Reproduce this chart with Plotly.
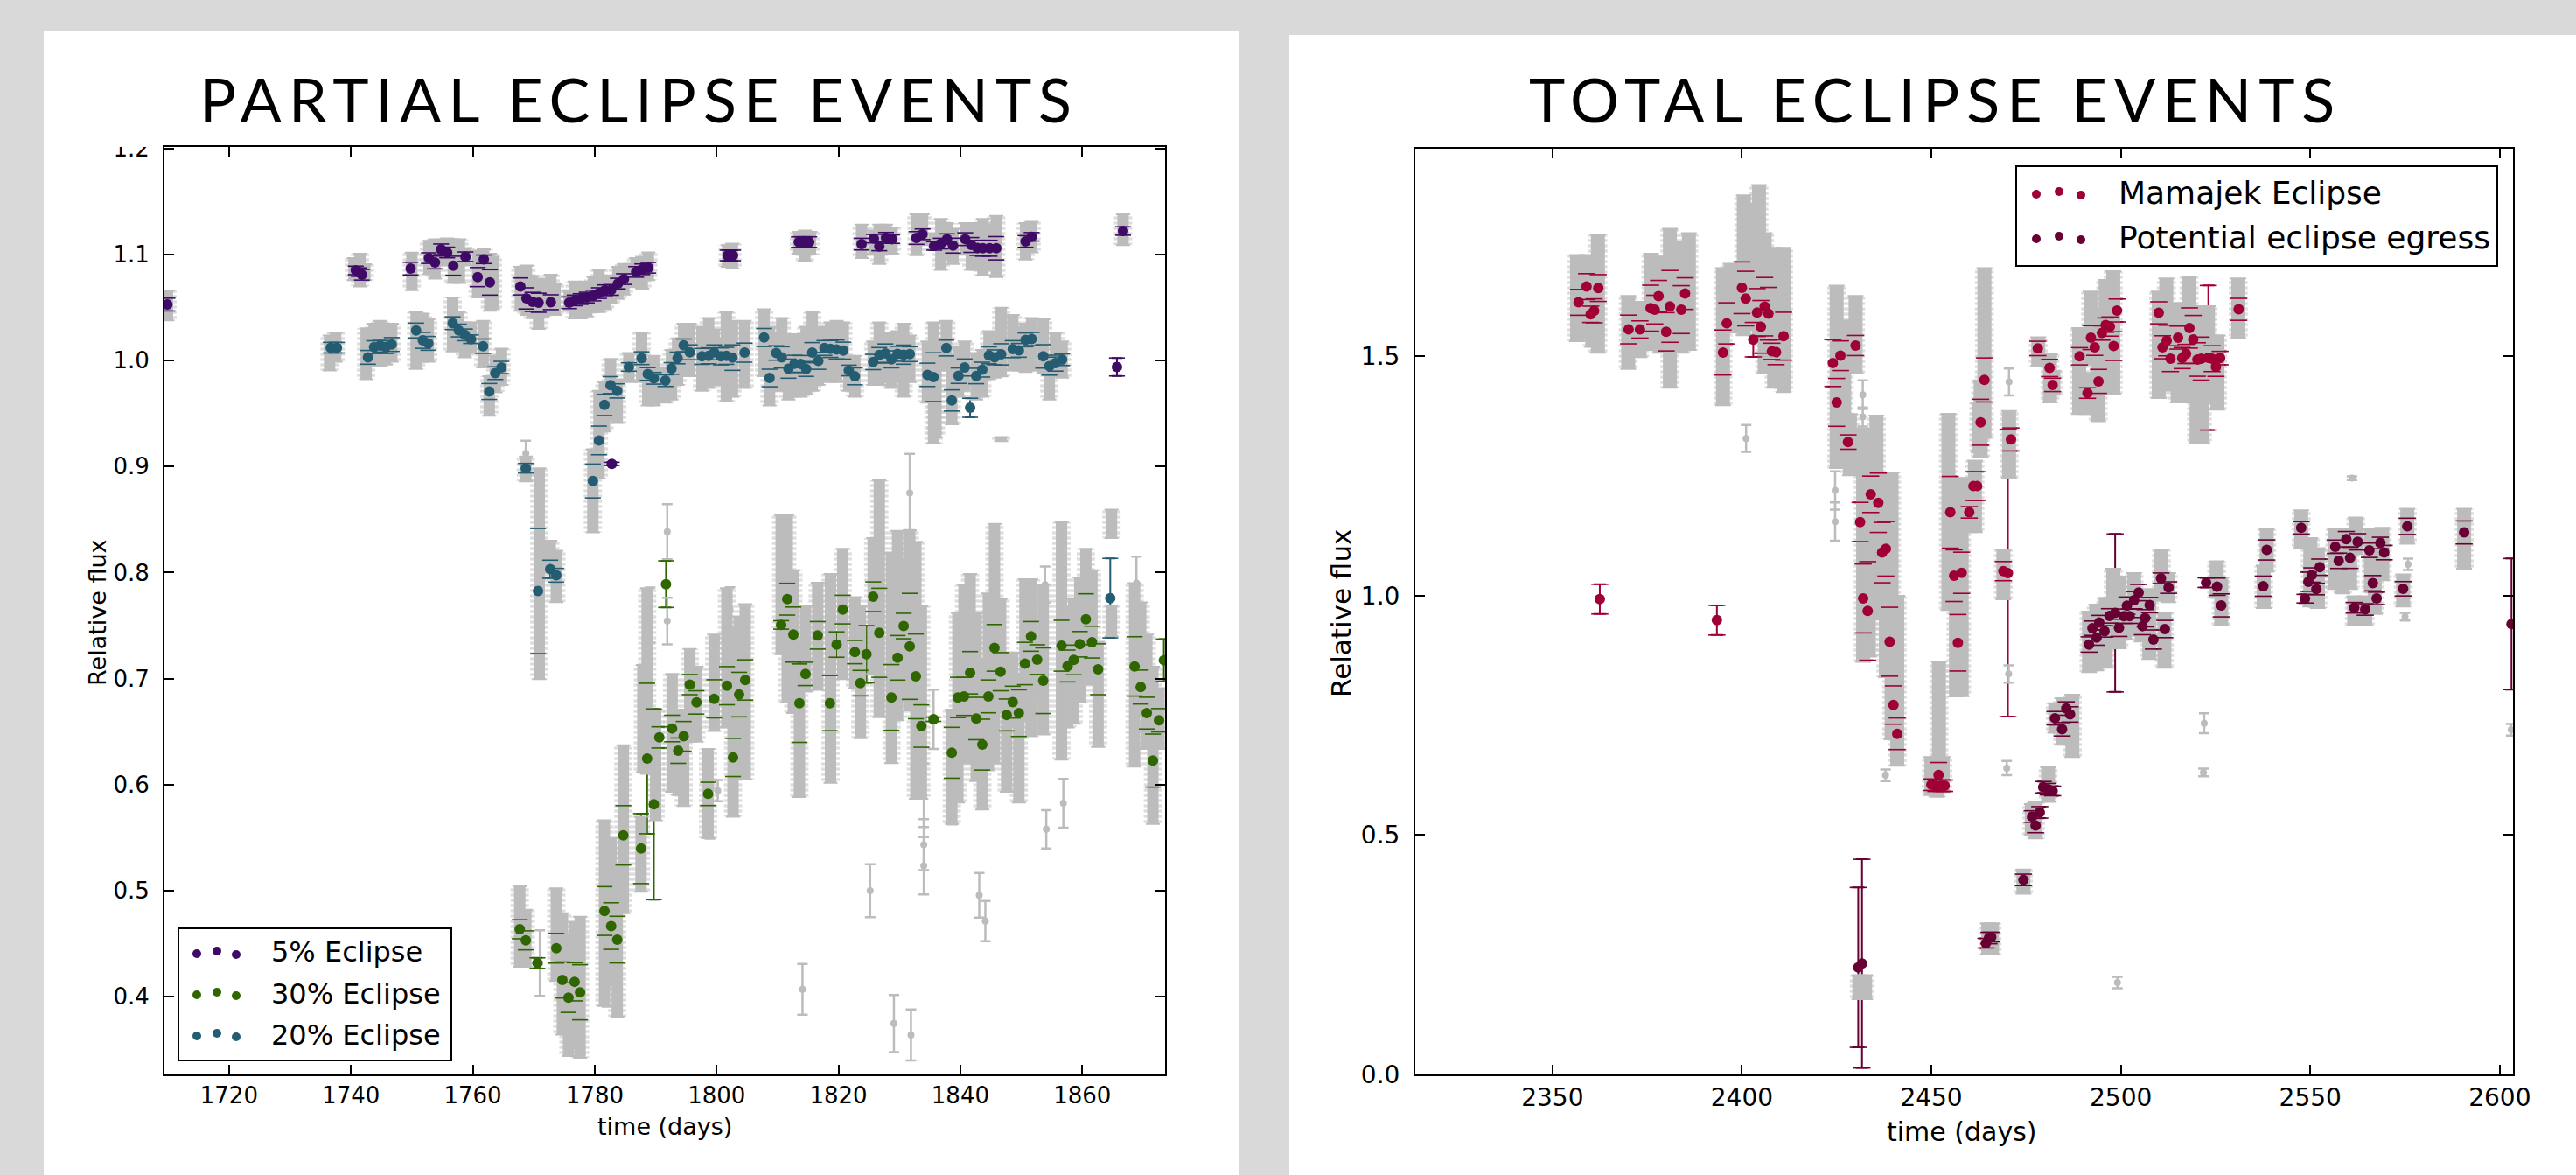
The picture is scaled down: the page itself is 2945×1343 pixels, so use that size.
import plotly.graph_objects as go

W, H = 2945, 1343

# ---------- PARTIAL ECLIPSE panel: coloured series ----------
p5_x = [1709.9,1740.8,1741.3,1741.8,1749.8,1752.8,1753.8,1754.8,1755.8,1756.8,
        1758.8,1760.8,1761.8,1762.8,1767.8,1768.8,1769.8,1770.8,1772.8,1775.8,
        1776.7,1777.7,1778.7,1779.8,1780.7,1781.7,1782.7,1783.8,1784.8,1786.8,
        1787.8,1788.8,1801.8,1802.2,1802.7,1782.8,1813.5,1814.1,1814.6,1815.2,
        1823.8,1825.8,1826.7,1827.8,1828.8,1832.8,1833.8,1835.7,1836.8,1837.8,
        1838.8,1840.8,1841.8,1842.8,1843.7,1844.8,1845.9,1850.7,1851.7,1866.7,1865.7]
p5_y = [1.0529,1.0851,1.0835,1.081,1.0868,1.0967,1.0926,1.105,1.102,1.0895,
        1.098,1.0788,1.0956,1.0738,1.070,1.0587,1.0554,1.0546,1.0551,1.0546,
        1.0568,1.0581,1.0595,1.0614,1.0637,1.0664,1.0667,1.0727,1.0769,1.0837,
        1.0862,1.0876,1.0992,1.0992,1.0992,0.9026,1.1118,1.1118,1.1118,1.1118,
        1.1099,1.1151,1.1077,1.1159,1.1146,1.1157,1.1192,1.1082,1.1104,1.1146,
        1.1085,1.1146,1.1091,1.1063,1.106,1.106,1.106,1.1124,1.1168,1.1223,0.994]
p5_e = [.006,.004,.004,.005,.006,.005,.006,.005,.005,.009,
        .0045,.009,.004,.012,.008,.01,.009,.009,.007,.0055,
        .005,.005,.005,.005,.005,.005,.005,.005,.005,.005,
        .005,.005,.005,.005,.005,.0015,.005,.005,.005,.005,
        .0055,.004,.004,.005,.004,.006,.005,.004,.005,.005,
        .007,.006,.007,.007,.0075,.0075,.011,.0055,.004,.004,.0085]

p20_x = [1736.7,1737.7,1742.8,1743.8,1744.8,1745.7,1746.7,1750.7,1751.8,1752.7,
         1756.7,1757.7,1758.7,1759.7,1761.7,1762.7,1763.7,1764.7,1768.7,1779.7,
         1780.7,1781.6,1782.6,1783.7,1785.6,1787.7,1788.7,1789.7,1791.6,1792.6,
         1793.6,1794.6,1795.6,1797.6,1798.7,1799.6,1800.7,1801.6,1802.6,1804.6,
         1807.8,1808.7,1809.8,1810.7,1811.8,1812.8,1813.8,1814.7,1815.7,1816.7,
         1817.7,1818.7,1819.7,1820.8,1821.7,1822.7,1825.7,1826.7,1827.7,1828.7,
         1829.7,1830.7,1831.7,1834.6,1835.6,1837.7,1838.6,1839.7,1840.7,1841.6,
         1842.6,1843.6,1844.7,1845.6,1846.7,1848.6,1849.6,1850.7,1851.7,1853.6,
         1854.6,1855.6,1856.7,1770.7,1772.7,1773.7,1864.6]
p20_y = [1.0122,1.0122,1.0031,1.0127,1.0141,1.0127,1.0152,1.0284,1.0191,1.0163,
         1.0353,1.0284,1.0243,1.0202,1.0136,.9709,.9882,.9935,.8985,.8864,
         .9247,.9582,.9769,.9714,.994,1.0023,.9874,.9833,.9811,.9926,
         1.0025,1.0144,1.0078,1.004,1.0045,1.0078,1.004,1.0045,1.0028,1.0075,
         1.0218,.9836,1.0072,1.0031,.9924,.997,.9968,.9921,1.0075,.9998,
         1.0119,1.011,1.0105,1.0094,.9907,.9852,.9987,1.0053,1.0067,1.0012,
         1.0064,1.0056,1.0061,.9866,.9844,1.0119,.9624,.9858,.9935,.9555,
         .9855,.9915,1.005,1.0031,1.0059,1.0108,1.0097,1.0196,1.0204,1.004,
         .9948,.9976,1.0009,.7826,.8032,.7975,.7759]
p20_e = [.005,.005,.0065,.006,.006,.006,.0065,.007,.0075,.0065,
         .006,.006,.0055,.004,.0068,.0075,.006,.0058,.0045,.016,
         .0135,.01,.008,.0067,.004,.006,.006,.0055,.0055,.0055,
         .0055,.006,.007,.0075,.0075,.007,.008,.008,.012,.009,
         .0085,.0083,.0068,.01,.009,.008,.008,.007,.0095,.008,
         .007,.008,.009,.008,.005,.008,.0072,.007,.009,.008,
         .007,.009,.007,.011,.023,.0075,.01,.0073,.008,.009,
         .0073,.007,.008,.007,.01,.008,.0065,.0065,.0062,.011,
         .0085,.0075,.0055,.059,.0085,.0065,.0375]

p30_x = [1767.7,1768.7,1770.6,1773.7,1774.7,1775.7,1776.7,1777.6,1781.6,1782.7,
         1783.7,1784.7,1787.6,1788.6,1789.7,1790.6,1791.7,1792.7,1793.7,1794.6,
         1795.6,1796.7,1798.6,1799.6,1801.7,1802.7,1803.7,1804.7,1810.6,1811.6,
         1812.6,1813.6,1814.6,1816.6,1818.6,1819.7,1820.7,1822.7,1823.6,1824.6,
         1825.7,1826.7,1828.7,1829.7,1830.7,1831.7,1832.7,1833.6,1835.6,1838.6,
         1839.6,1840.6,1841.6,1842.6,1843.6,1844.6,1845.6,1846.6,1847.6,1848.6,
         1849.6,1850.6,1851.6,1852.6,1853.6,1856.6,1857.6,1858.6,1859.6,1860.6,
         1861.6,1862.6,1868.6,1869.6,1870.6,1871.6,1872.6,1873.4]
p30_y = [.4635,.453,.4315,.4456,.4156,.399,.4139,.404,.4807,.4665,
         .4537,.5521,.5396,.6246,.5814,.6445,.7891,.6529,.632,.6455,
         .6943,.6775,.5912,.6809,.6933,.6256,.6849,.6987,.7506,.7749,
         .7415,.6768,.7044,.7408,.6768,.7321,.7651,.725,.6957,.723,
         .7772,.7432,.6822,.7196,.7496,.7304,.7021,.6552,.6616,.63,
         .6822,.6832,.7055,.6623,.6377,.6832,.729,.7065,.6657,.6778,
         .6674,.7142,.7398,.7179,.698,.731,.7119,.7176,.7324,.756,
         .7344,.7088,.7115,.692,.6674,.6226,.6607,.7173]
p30_e = [.009,.009,.005,.014,.017,.014,.018,.026,.023,.022,
         .022,.028,.033,.071,.09,.01,.022,.0125,.012,.014,
         .0095,.011,.011,.018,.018,.018,.021,.019,.004,.015,
         .026,.037,.011,.013,.026,.012,.0135,.011,.012,.027,
         .014,.042,.031,.021,.012,.05,.04,.02,.002,.024,
         .019,.018,.02,.02,.024,.0155,.022,.018,.015,.015,
         .022,.02,.014,.014,.031,.024,.015,.014,.012,.024,
         .015,.024,.028,.016,.015,.025,.011,.02]

# ---------- PARTIAL panel: grey light-curve columns ----------
pg_x = [1709.9,1740.5,1741.5,1742.3,1750.0,1752.8,1753.8,1754.8,1755.8,1756.8,1757.8,1758.8,
        1760.8,1761.8,1762.8,1763.3,1767.8,1768.8,1769.8,1770.8,1771.5,1772.8,1773.5,
        1775.8,1776.7,1777.7,1778.7,1779.8,1780.7,1781.7,1782.7,1783.8,1784.8,1785.8,1786.8,1787.8,1788.8,
        1801.8,1802.6,1813.5,1814.5,1815.4,1823.8,1825.8,1826.7,1827.8,1828.8,1832.8,1833.8,
        1835.7,1836.8,1837.8,1838.8,1840.8,1841.8,1842.8,1843.7,1844.8,1845.9,1850.7,1851.7,1866.7,
        1736.5,1737.5,1742.5,1743.8,1744.8,1745.7,1746.7,1750.7,1751.8,1752.7,
        1756.7,1757.7,1758.7,1759.7,1761.7,1762.7,1763.7,1764.7,1768.7,1770.9,1772.7,1773.7,
        1779.7,1780.7,1781.6,1782.6,1783.7,1785.6,1787.7,1788.7,1789.7,1791.6,1792.6,1793.6,1794.6,1795.6,
        1797.6,1798.7,1799.6,1800.7,1801.6,1802.6,1804.6,1807.8,1808.7,1809.8,1810.7,1811.8,1812.8,1813.8,1814.7,
        1815.7,1816.7,1817.7,1818.7,1819.7,1820.8,1821.7,1822.7,1825.7,1826.7,1827.7,1828.7,1829.7,1830.7,1831.7,
        1834.6,1835.6,1836.0,1837.7,1838.6,1839.7,1840.7,1842.6,1843.6,1844.7,1845.6,1846.7,
        1848.6,1849.6,1850.7,1851.7,1853.6,1854.6,1855.6,1856.7,1846.7,
        1767.7,1768.7,1773.7,1774.7,1775.7,1776.7,1777.6,1781.6,1782.7,1783.7,1784.7,1787.6,1787.9,1788.6,1790.0,
        1792.7,1793.7,1794.6,1795.6,1796.7,1798.6,1799.6,1801.7,1802.7,1803.7,1804.7,
        1810.6,1811.6,1812.6,1813.6,1814.6,1816.6,1818.7,1820.7,1822.7,1823.6,1825.7,1826.7,
        1828.7,1829.7,1830.7,1831.7,1832.7,1833.6,1838.6,1839.6,1840.6,1841.6,1842.6,1843.6,1844.6,1845.6,
        1846.6,1847.6,1848.6,1849.6,1850.6,1851.6,1852.6,1853.6,1856.6,1857.6,1858.6,1859.6,1860.6,1861.6,1862.6,
        1864.8,1864.8,1868.6,1869.6,1870.6,1871.6,1872.6]
pg_hi = [1.066,1.0967,1.1008,1.091,1.102,1.113,1.1146,1.113,1.1154,1.1146,1.1146,1.1063,
         1.1036,1.105,1.1008,1.098,1.0884,1.0898,1.08,1.0774,1.076,1.081,1.072,
         1.0664,1.0747,1.072,1.0747,1.0788,1.0857,1.0802,1.0802,1.0884,1.0912,1.0912,1.0967,1.098,1.1022,
         1.109,1.1104,1.1215,1.1228,1.1215,1.1283,1.1228,1.1283,1.1283,1.1256,1.138,1.138,
         1.12,1.1338,1.1297,1.1242,1.1297,1.1297,1.127,1.1338,1.1283,1.1366,1.1297,1.131,1.138,
         1.0237,1.0265,1.0306,1.0348,1.0375,1.0334,1.0348,1.0458,1.0444,1.0389,
         1.0595,1.0458,1.0361,1.0361,1.0375,.9852,1.0045,1.0114,.9095,.8985,.83,.8207,
         .9164,.9714,.9797,1.0017,.9825,1.0072,1.0265,1.0017,1.0045,.9935,1.01,1.021,1.0348,1.0348,
         1.032,1.0402,1.0292,1.021,1.0458,1.0375,1.0375,1.0485,1.032,1.0265,1.0402,1.0237,1.025,1.0237,1.032,
         1.0458,1.0292,1.032,1.0361,1.0375,1.0361,1.0045,1.0045,1.0182,1.0361,1.0265,1.0265,1.0279,1.0348,1.0237,
         1.0182,1.0361,1.018,1.0375,1.0045,1.0127,1.0182,1.0072,1.01,1.0279,1.0237,1.0499,
         1.043,1.032,1.0348,1.0402,1.0389,1.0045,1.0265,1.0182,.928,
         .5039,.482,.5022,.4786,.4584,.4702,.4753,.5663,.5494,.5224,.6371,.5696,.7129,.7853,.6707,
         .7044,.6707,.6674,.728,.7112,.6337,.7415,.7853,.7483,.7584,.7702,
         .8544,.8544,.8022,.7348,.7685,.7904,.7988,.8224,.7769,.7685,.8325,.887,
         .819,.8393,.8123,.84,.8291,.7685,.6707,.7617,.7887,.7988,.7617,.718,.7803,.846,
         .7752,.7247,.7247,.7044,.7938,.7938,.732,.7887,.8477,.7685,.7752,.7955,.8224,.8022,.7348,
         .8595,.7685,.7900,.7719,.7415,.7112,.691]
pg_lo = [1.038,1.076,1.07,1.076,1.0664,1.0815,1.0774,1.09,1.09,1.0733,1.0733,1.09,
         1.0595,1.0595,1.0471,1.0485,1.0471,1.043,1.04,1.0298,1.0416,1.043,1.043,
         1.0471,1.0397,1.0397,1.0416,1.0457,1.0457,1.0485,1.054,1.0582,1.0623,1.0705,1.0692,1.0678,1.076,
         1.0884,1.087,1.1008,1.0939,1.1,1.0967,1.1008,1.0912,1.1008,1.1008,1.0994,1.109,
         1.105,1.0857,1.0967,1.0912,1.1008,1.0857,1.0857,1.0802,1.0857,1.0788,1.0953,1.1022,1.109,
         .9907,.999,.9825,.9948,.9948,.9962,.999,.9921,.999,.999,
         1.0086,1.01,1.003,1.0072,.9935,.948,.97,.977,.8861,.6994,.7997,.772,
         .838,.8888,.933,.944,.9412,.9797,.9797,.9577,.9577,.9604,.9632,.977,.9852,.9852,
         .9714,.9742,.977,.977,.9618,.966,.9742,.9852,.9577,.9714,.9714,.9632,.966,.966,.9687,
         .9714,.977,.981,.9797,.9797,.9852,.9714,.966,.977,.977,.9797,.9742,.9797,.966,.9797,
         .9604,.9219,.9275,.9907,.9398,.9659,.9714,.9632,.966,.9825,.9838,.985,
         .9907,.9907,.9893,.9907,.9879,.9632,.9852,.9838,.924,
         .4281,.4281,.4146,.364,.3438,.3505,.3422,.391,.4112,.3809,.4786,.4989,.6118,.6101,.5663,
         .5932,.59,.5797,.6404,.6404,.5494,.6505,.6539,.5696,.6067,.605,
         .723,.6775,.6674,.5882,.6876,.6893,.6017,.6994,.691,.6438,.7044,.6636,
         .6202,.6606,.6775,.67,.5865,.5865,.5629,.5831,.6202,.6202,.6033,.5764,.6134,.62,
         .6674,.5932,.654,.5831,.6606,.6455,.68,.6472,.6236,.6539,.6573,.6775,.7011,.6943,.6354,
         .8325,.7398,.6168,.664,.6337,.5629,.6337]

# lone grey measurements of the partial panel
pl_x = [1814.1,1825.2,1829.1,1831.9,1843.1,1844.1,1854.1,1856.9,1834.0,1834.0,1834.0,1838.7,
        1791.9,1791.9,1789.1,1802.2,1803.0,1798.9,1800.2,1782.0,1771.0,1853.9,1868.9,1835.6,1831.7,1831.7,1768.7]
pl_y = [.4068,.4999,.3745,.3637,.4955,.4712,.5578,.5824,.5899,.5433,.5234,.5865,
        .8386,.7543,.76,.7651,.5973,.573,.5942,.4095,.4315,.7887,.7900,.6616,.875,.82,.9125]
pl_e = [.024,.025,.027,.024,.021,.019,.018,.023,.03,.024,.027,.024,
        .026,.022,.026,.021,.027,.024,.01,.019,.031,.017,.025,.028,.037,.02,.012]

# ---------- TOTAL ECLIPSE panel: coloured series ----------
m_x = [2356.9,2359,2362.1,2361,2360.1,2370.1,2373.1,2375.9,2377,2378,
       2380,2381,2384,2385,2395,2396,2400,2401,2403,2404,
       2405,2406,2407,2407.9,2409,2411,2424,2426,2425,2428,
       2430,2431.2,2434,2436,2437,2438,2432,2433.2,2439,2440,
       2441,2455,2456,2458,2457,2460,2461.1,2462.1,2463,2464,
       2450,2451.2,2451.9,2452.6,2453.5,2469,2470.2,2471,2478.1,2481.2,
       2482,2489.1,2491.2,2492.1,2493.1,2494.1,2495,2496,2497.1,2498.1,
       2499,2510,2511,2512.1,2513.1,2515.1,2516.2,2517.2,2518.1,2519.1,
       2520.2,2521.2,2523.1,2524.1,2525.1,2526.2,2531.1,2362.5,2393.4]
m_y = [1.613,1.6459,1.6429,1.5953,1.588,1.5563,1.5563,1.6008,1.5978,1.6258,
       1.5515,1.6045,1.5978,1.6313,1.5082,1.5691,1.6435,1.6209,1.535,1.5917,
       1.5618,1.6039,1.5892,1.5106,1.5088,1.5423,1.4862,1.5015,1.404,1.3211,
       1.5228,1.1541,1.212,1.1943,1.0902,1.0981,.9944,.9683,.904,.7717,
       .7117,1.1743,1.042,1.048,.9018,1.1743,1.2291,1.2291,1.3625,1.4509,
       .6053,.6032,.6256,.6032,.6032,1.0515,1.0475,1.3266,1.5167,1.4759,
       1.4406,1.5003,1.4235,1.5393,1.5192,1.4479,1.549,1.5655,1.5624,1.5216,
       1.596,1.5911,1.5192,1.5332,1.4954,1.5393,1.4966,1.5052,1.5594,1.5356,
       1.4936,1.4954,1.4972,1.4954,1.4783,1.4966,1.5984,.993,.949]
m_e = [.027,.027,.028,.025,.017,.03,.018,.048,.03,.033,
       .04,.075,.05,.033,.047,.043,.054,.057,.036,.05,
       .055,.061,.055,.017,.026,.05,.049,.031,.05,.015,
       .021,.041,.038,.062,.063,.057,.072,.103,.072,.04,
       .033,.075,.054,.043,.059,.012,.03,.03,.048,.046,
       .012,.012,.026,.012,.012,.02,.30,.024,.015,.018,
       .014,.018,.011,.025,.017,.025,.015,.015,.02,.03,
       .024,.023,.024,.032,.027,.024,.022,.02,.042,.05,
       .035,.045,.151,.027,.02,.014,.023,.031,.031]

e_x = [2430.7,2431.7,2464.4,2465.2,2465.8,2474.3,2476.6,2477.5,2478.6,2479.5,
       2480.8,2482,2482.6,2484.5,2485.6,2486.6,2491.6,2492.5,2493.6,2494.3,
       2495.7,2497,2498.5,2499.5,2500.8,2502.3,2501.6,2503.5,2504.7,2506.4,
       2505.7,2507.6,2508.6,2511.6,2510.6,2512.6,2522.5,2525.4,2526.5,2538.5,
       2537.6,2547.6,2548.6,2549.5,2550.4,2551.6,2552.5,2556.6,2557.5,2559.5,
       2560.5,2561.6,2562.5,2564.5,2565.6,2566.5,2567.5,2568.5,2569.5,2574.5,
       2575.6,2590.6,2603.1]
e_y = [.2236,.2315,.2742,.285,.287,.4065,.5388,.52,.5475,.6,
       .596,.5923,.7442,.7211,.7644,.7521,.8982,.9322,.9127,.944,
       .9257,.958,.9641,.933,.9573,.9573,.9793,.9909,1.0067,.9531,
       .9366,.9805,.9086,.9305,1.0366,1.0171,1.0274,1.0189,.9799,1.0957,
       1.0201,1.142,.9939,1.0293,1.0433,1.014,1.0597,1.1024,1.0731,1.1182,
       1.0792,.975,1.1127,.9714,1.0951,1.0262,.9945,1.1103,1.0902,1.0146,
       1.145,1.1323,.9409]
e_e = [.167,.218,.01,.012,.01,.012,.012,.015,.012,.012,
       .012,.01,.014,.014,.014,.016,.016,.015,.016,.015,
       .012,.015,.165,.018,.015,.015,.018,.018,.017,.018,
       .018,.016,.02,.018,.011,.012,.01,.018,.024,.021,
       .021,.013,.009,.02,.015,.012,.017,.014,.016,.016,
       .022,.011,.017,.012,.015,.016,.013,.012,.015,.015,
       .017,.024,.137]

# ---------- TOTAL panel: grey columns ----------
tg_x = [2356.5,2359,2360.5,2362,2370,2373,2376,2378.5,2381,2384,2386,2395,2397,2400.5,2402,2404.5,2406,2408.5,2411,
        2425,2427,2428.5,2430,2432,2433.5,2435.5,2438,2439.5,2441,2450,2451.5,2453,2454.5,2456.5,2458,
        2461.5,2462.5,2463,2464,2470.5,2469,2478.2,2481.3,2482.2,2489,2491,2492,2494,2496,2498,
        2510,2512,2515,2516.5,2518,2520,2521.5,2523,2525.5,2531,
        2491.6,2493.5,2496,2498,2499.5,2501,2503.5,2505.5,2507.5,2511.5,2510.7,2512.5,2525.3,2526.5,2537.7,2538.5,
        2547.6,2550,2552,2556.5,2558.5,2560.5,2562,2561.6,2564.5,2566,2567,2569,2574.5,2575.6,2590.6,
        2431,2432.5,2465,2466,2474.3,2477.5,2476.5,2480.8,2482.7,2484.6,2487.2,2437,2460,2452]
tg_hi = [1.7117,1.7117,1.65,1.7544,1.6264,1.6142,1.7148,1.7087,1.7666,1.7391,1.7574,1.6843,1.6935,1.8366,1.8184,1.858,1.7574,1.727,1.727,
         1.6477,1.5746,1.3796,1.6264,1.35,1.343,1.3766,1.2577,1.2577,1.0,.663,.663,.663,1.38,1.2457,1.2457,
         1.2821,1.404,1.45,1.6843,1.386,1.0962,1.54,1.5045,1.47,1.5594,1.4649,1.6356,1.599,1.66,1.6782,
         1.6356,1.663,1.6112,1.6112,1.666,1.6051,1.6051,1.6051,1.5442,1.663,
         .967,.9814,.9957,1.0567,1.04,.9957,1.0475,1.0079,1.014,.9653,1.0963,1.0475,1.0719,1.0384,1.0628,1.139,
         1.1786,1.1207,1.0993,1.139,1.139,1.139,1.1633,.9988,.9988,1.139,1.0384,1.142,1.0445,1.1816,1.1816,
         .2076,.2076,.316,.316,.428,.569,.565,.6415,.7753,.786,.7934,1.2577,1.2457,.862]
tg_lo = [1.532,1.538,1.52,1.5076,1.474,1.4984,1.5137,1.5076,1.4345,1.5076,1.5137,1.3979,1.5502,1.5441,1.5563,1.5441,1.4649,1.4345,1.4253,
         1.2669,1.2669,1.2516,1.4649,.862,.873,.9814,.83,.70,.645,.5836,.58,.59,.97,.7897,.79,
         1.1328,1.2994,1.29,1.33,1.2456,.9926,1.48,1.404,1.42,1.3796,1.3796,1.4832,1.3644,1.4223,1.4223,
         1.4131,1.4284,1.404,1.404,1.4649,1.3187,1.3187,1.404,1.3887,1.5381,
         .8404,.844,.8495,.8921,.89,.9104,.9165,.9043,.8678,.8495,.9897,.9866,.9957,.9379,.9744,1.0506,
         1.0993,.9775,.9744,1.014,1.0049,1.014,1.0872,.9379,.9379,1.0079,.9622,1.0323,.9775,1.1085,1.0567,
         .157,.157,.251,.251,.3776,.4933,.50,.5692,.7138,.6885,.6632,.95,1.1328,.65]

tl_x = [2437.9,2470.4,2469.9,2522,2521.8,2499.1,2561,2603,2575,2575.8,2424.6,2424.6,2431.9,2431.9,2452,2452,2452,2470.5,2401.1,2498.7]
tl_y = [.625,.8367,.64,.7337,.6307,.192,1.2456,.72,.9561,1.0658,1.22,1.155,1.42,1.3735,.83,.76,.70,1.4467,1.3286,1.02]
tl_e = [.012,.018,.015,.021,.008,.012,.004,.012,.008,.012,.04,.04,.03,.02,.03,.04,.05,.028,.028,.035]

# ---------- axes ticks and text ----------
left_xticks = [1720, 1740, 1760, 1780, 1800, 1820, 1840, 1860]
left_yticks = [0.4, 0.5, 0.6, 0.7, 0.8, 0.9, 1.0, 1.1, 1.2]
right_xticks = [2350, 2400, 2450, 2500, 2550, 2600]
right_yticks = [0.0, 0.5, 1.0, 1.5]
title_left, title_right = "PARTIAL ECLIPSE EVENTS", "TOTAL ECLIPSE EVENTS"
legend_left = ["5% Eclipse", "30% Eclipse", "20% Eclipse"]
legend_right = ["Mamajek Eclipse", "Potential eclipse egress"]

PURPLE, GREEN, TEAL = "#3f0a66", "#2f6600", "#245c72"
CRIMSON, MAROON = "#a00034", "#680034"
GREY = "#bcbcbc"

fig = go.Figure()


def colour_stems(x, y, e, c, ax, cw):
    fig.add_trace(go.Scatter(x=x, y=y, mode="markers", marker=dict(size=1, color=c),
                             error_y=dict(type="data", array=e, color=c, thickness=2, width=cw),
                             hoverinfo="skip", showlegend=False, xaxis=ax[0], yaxis=ax[1]))


def grey_cols(x, lo, hi, ax, core, cw, days):
    height = [b - a for a, b in zip(lo, hi)]
    fig.add_trace(go.Bar(x=x, y=height, base=lo, width=days, hoverinfo="skip", showlegend=False,
                         xaxis=ax[0], yaxis=ax[1],
                         marker=dict(color="rgba(0,0,0,0)", line=dict(width=0),
                                     pattern=dict(shape="-", fgcolor=GREY, bgcolor="rgba(0,0,0,0)",
                                                  size=6, solidity=0.55, fillmode="overlay"))))
    mid = [(a + b) / 2 for a, b in zip(lo, hi)]
    err = [(b - a) / 2 for a, b in zip(lo, hi)]
    fig.add_trace(go.Scatter(x=x, y=mid, mode="markers", marker=dict(size=1, color=GREY),
                             error_y=dict(type="data", array=err, color=GREY, thickness=core, width=0),
                             hoverinfo="skip", showlegend=False, xaxis=ax[0], yaxis=ax[1]))
    fig.add_trace(go.Scatter(x=x, y=mid, mode="markers", marker=dict(size=1, color=GREY),
                             error_y=dict(type="data", array=err, color=GREY, thickness=2, width=cw),
                             hoverinfo="skip", showlegend=False, xaxis=ax[0], yaxis=ax[1]))


def grey_lone(x, y, e, ax):
    fig.add_trace(go.Scatter(x=x, y=y, mode="markers", marker=dict(size=8, color=GREY),
                             error_y=dict(type="data", array=e, color=GREY, thickness=2.5, width=6),
                             hoverinfo="skip", showlegend=False, xaxis=ax[0], yaxis=ax[1]))


def colour_top(x, y, e, c, ax, cap, size):
    up = [a + b for a, b in zip(y, e)]
    dn = [a - b for a, b in zip(y, e)]
    for yy in (up, dn):
        fig.add_trace(go.Scatter(x=x, y=yy, mode="markers",
                                 marker=dict(symbol="line-ew", size=cap, line=dict(color=c, width=1.6)),
                                 hoverinfo="skip", showlegend=False, xaxis=ax[0], yaxis=ax[1]))
    fig.add_trace(go.Scatter(x=x, y=y, mode="markers", marker=dict(size=size, color=c),
                             hoverinfo="skip", showlegend=False, xaxis=ax[0], yaxis=ax[1]))


LEFT, RIGHT = ("x", "y"), ("x2", "y2")
for s in [(p5_x, p5_y, p5_e, PURPLE), (p30_x, p30_y, p30_e, GREEN), (p20_x, p20_y, p20_e, TEAL)]:
    colour_stems(s[0], s[1], s[2], s[3], LEFT, 6)
grey_cols(pg_x, pg_lo, pg_hi, LEFT, 13, 8, 3.0)
grey_lone(pl_x, pl_y, pl_e, LEFT)
for s in [(p5_x, p5_y, p5_e, PURPLE), (p30_x, p30_y, p30_e, GREEN), (p20_x, p20_y, p20_e, TEAL)]:
    colour_top(s[0], s[1], s[2], s[3], LEFT, 13, 12)

for s in [(m_x, m_y, m_e, CRIMSON), (e_x, e_y, e_e, MAROON)]:
    colour_stems(s[0], s[1], s[2], s[3], RIGHT, 7)
grey_cols(tg_x, tg_lo, tg_hi, RIGHT, 16, 9, 5.0)
grey_lone(tl_x, tl_y, tl_e, RIGHT)
for s in [(m_x, m_y, m_e, CRIMSON), (e_x, e_y, e_e, MAROON)]:
    colour_top(s[0], s[1], s[2], s[3], RIGHT, 14, 12)


def px(v):
    return v / W


def py(v):
    return 1 - v / H


def rect(x0, y0, x1, y1, fill, line=None, layer="below", lw=0):
    return dict(type="rect", xref="paper", yref="paper", x0=px(x0), x1=px(x1), y0=py(y0), y1=py(y1),
                fillcolor=fill, line=dict(color=line or fill, width=lw), layer=layer)


def dot(cx, cy, c, r=5):
    return dict(type="circle", xref="paper", yref="paper", x0=px(cx - r), x1=px(cx + r),
                y0=py(cy + r), y1=py(cy - r), fillcolor=c, line=dict(width=0), layer="above")


shapes = [rect(50, 35, 1416, 1343, "white"), rect(1474, 40, 2945, 1343, "white"),
          rect(130, 140, 186, 168, "white", layer="above"),
          rect(204, 1061, 516, 1212, "white", "black", "above", 2),
          rect(2305, 190, 2855, 304, "white", "black", "above", 2)]
for i, (c, yy) in enumerate([(PURPLE, 1089), (GREEN, 1136), (TEAL, 1183)]):
    shapes += [dot(225, yy + 1, c), dot(248, yy - 2, c), dot(270, yy + 2, c)]
for c, yy in [(CRIMSON, 221), (MAROON, 272)]:
    shapes += [dot(2328, yy + 1, c), dot(2354, yy - 2, c), dot(2379, yy + 2, c)]

FONT = "DejaVu Sans"


def note(text, x, y, size, anchor="center", angle=0, family=FONT):
    f = dict(family=family, size=size, color="black")
    return dict(text=text, xref="paper", yref="paper", x=px(x), y=py(y), showarrow=False,
                xanchor=anchor, yanchor="middle", textangle=angle, font=f)


annotations = [note(title_left, 730, 113, 70, family="Lato"),
               note(title_right, 2212, 113, 70, family="Lato"),
               note("Relative flux", 111, 700, 27, angle=-90), note("Relative flux", 1533, 701, 31, angle=-90),
               note("time (days)", 760, 1287, 27), note("time (days)", 2243, 1293, 30)]
for t, yy in zip(legend_left, [1088, 1136, 1183]):
    annotations.append(note(t, 308, yy, 32, "left"))
for t, yy in zip(legend_right, [221, 272]):
    annotations.append(note(t, 2420, yy, 36, "left"))

axis = dict(showgrid=False, zeroline=False, showline=True, linecolor="black", linewidth=2, mirror="allticks",
            ticks="inside", tickcolor="black", tickwidth=2, ticklen=11, ticklabelstandoff=10)
fig.update_layout(
    width=W, height=H, margin=dict(l=0, r=0, t=0, b=0, autoexpand=False), autosize=False,
    paper_bgcolor="#d9d9d9", plot_bgcolor="rgba(0,0,0,0)", showlegend=False, barmode="overlay",
    shapes=shapes, annotations=annotations,
    xaxis=dict(axis, domain=[px(188), px(1332)], range=[1709.4, 1873.6], tickvals=left_xticks, ticklabelstandoff=0,
               tickfont=dict(family=FONT, size=26, color="black"), anchor="y"),
    yaxis=dict(axis, domain=[py(1228), py(168)], range=[0.3265, 1.2016], tickvals=left_yticks, tickformat=".1f",
               tickfont=dict(family=FONT, size=26, color="black"), anchor="x"),
    xaxis2=dict(axis, domain=[px(1618), px(2873)], range=[2313.8, 2603.5], tickvals=right_xticks, ticklabelstandoff=0,
                tickfont=dict(family=FONT, size=28, color="black"), anchor="y2"),
    yaxis2=dict(axis, domain=[py(1228), py(170)], range=[0, 1.934], tickvals=right_yticks, tickformat=".1f",
                tickfont=dict(family=FONT, size=28, color="black"), anchor="x2"),
)

post = """
document.body.style.margin='0';
document.querySelectorAll('.annotation-text').forEach(function(t){
  if (t.textContent.indexOf('ECLIPSE EVENTS')>=0) { t.style.letterSpacing='8px'; }
});
"""
fig.write_html("out.html", post_script=post, config=dict(displayModeBar=False))
